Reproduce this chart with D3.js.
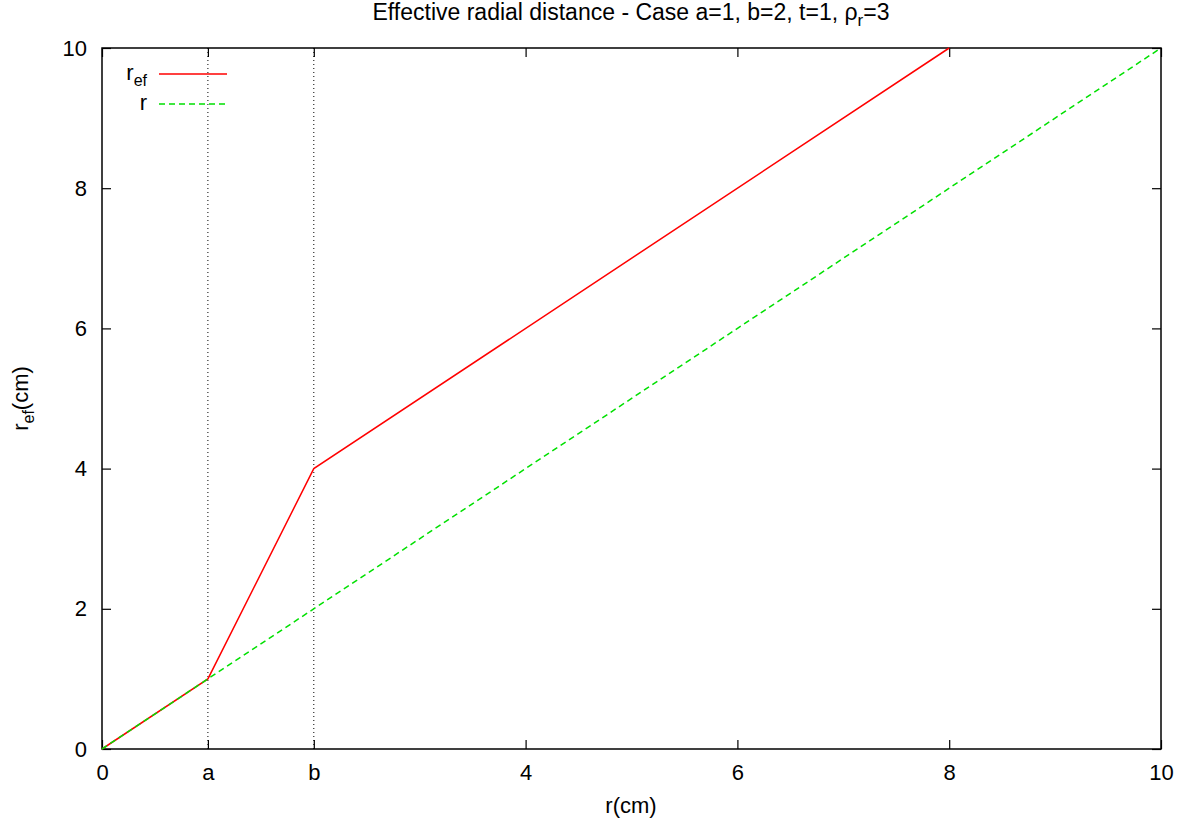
<!DOCTYPE html>
<html>
<head>
<meta charset="utf-8">
<script src="https://cdn.jsdelivr.net/npm/d3@7"></script>
<style>
  html, body { margin: 0; padding: 0; background: #fff; }
  svg text { font-family: "Liberation Sans", Arial, sans-serif; fill: #000; }
</style>
</head>
<body>
<svg id="chart" width="1193" height="829"></svg>
<script>
// Effective radial distance r_ef versus r
const rValues   = [0, 1, 2, 8];
const refValues = [0, 1, 4, 10];
const identR    = [0, 10];
const identVal  = [0, 10];
const boundaryX = [1, 2];            // a and b
const xTickValues = [0, 1, 2, 4, 6, 8, 10];
const xTickLabels = ["0", "a", "b", "4", "6", "8", "10"];
const yTickValues = [0, 2, 4, 6, 8, 10];

const W = 1193, H = 829;
const m = { left: 102, right: 32, top: 48, bottom: 80 };
const svg = d3.select("#chart");

const x = d3.scaleLinear().domain([0, 10]).range([m.left, W - m.right]);
const y = d3.scaleLinear().domain([0, 10]).range([H - m.bottom, m.top]);
const FS = 22;
const SUB = 16;
const tickLen = 9;

// boundary lines at a and b
svg.append("g").selectAll("line").data(boundaryX).join("line")
  .attr("x1", d => x(d)).attr("x2", d => x(d))
  .attr("y1", y(0)).attr("y2", y(10))
  .attr("stroke", "#000").attr("stroke-width", 1)
  .attr("stroke-dasharray", "1,3");

// bottom axis with labels
const xAxis = d3.axisBottom(x).tickValues(xTickValues)
  .tickFormat((d, i) => xTickLabels[i]).tickSize(-tickLen).tickPadding(15);
svg.append("g").attr("transform", `translate(0,${y(0)})`).call(xAxis)
  .call(g => g.select(".domain").remove())
  .call(g => g.selectAll("line").attr("stroke-width", 1.2))
  .call(g => g.selectAll("text").attr("font-size", FS));
// top mirrored ticks
svg.append("g").attr("transform", `translate(0,${y(10)})`)
  .call(d3.axisTop(x).tickValues(xTickValues).tickFormat("").tickSize(-tickLen))
  .call(g => g.select(".domain").remove())
  .call(g => g.selectAll("line").attr("stroke-width", 1.2));

// left axis
svg.append("g").attr("transform", `translate(${x(0)},0)`)
  .call(d3.axisLeft(y).tickValues(yTickValues).tickFormat(d3.format("d")).tickSize(-tickLen).tickPadding(15))
  .call(g => g.select(".domain").remove())
  .call(g => g.selectAll("line").attr("stroke-width", 1.2))
  .call(g => g.selectAll("text").attr("font-size", FS));
// right mirrored ticks
svg.append("g").attr("transform", `translate(${x(10)},0)`)
  .call(d3.axisRight(y).tickValues(yTickValues).tickFormat("").tickSize(-tickLen))
  .call(g => g.select(".domain").remove())
  .call(g => g.selectAll("line").attr("stroke-width", 1.2));

// frame
svg.append("rect")
  .attr("x", x(0)).attr("y", y(10))
  .attr("width", x(10) - x(0)).attr("height", y(0) - y(10))
  .attr("fill", "none").attr("stroke", "#000").attr("stroke-width", 1.5);

const line = d3.line().x(d => x(d[0])).y(d => y(d[1]));

// r_ef (red)
svg.append("path")
  .datum(d3.zip(rValues, refValues))
  .attr("d", line).attr("fill", "none")
  .attr("stroke", "#ff0000").attr("stroke-width", 1.5);

// r reference line (green dashed), drawn on top
svg.append("path")
  .datum(d3.zip(identR, identVal))
  .attr("d", line).attr("fill", "none")
  .attr("stroke", "#00e000").attr("stroke-width", 1.5)
  .attr("stroke-dasharray", "6,4");

// legend
const lg = svg.append("g");
const legendItems = [
  { name: "r", sub: "ef", color: "#ff0000", dash: null, ty: 74 },
  { name: "r", sub: null, color: "#00e000", dash: "6,4", ty: 104 }
];
legendItems.forEach(it => {
  const t = lg.append("text").attr("x", 147).attr("y", it.ty + 6)
    .attr("text-anchor", "end").attr("font-size", FS);
  t.append("tspan").text(it.name);
  if (it.sub) t.append("tspan").attr("font-size", SUB).attr("dy", 6).text(it.sub);
  lg.append("line").attr("x1", 159).attr("x2", 227).attr("y1", it.ty).attr("y2", it.ty)
    .attr("stroke", it.color).attr("stroke-width", 1.5)
    .attr("stroke-dasharray", it.dash);
});

// title
const title = svg.append("text").attr("x", 631).attr("y", 20)
  .attr("text-anchor", "middle").attr("font-size", 23);
title.append("tspan").text("Effective radial distance - Case a=1, b=2, t=1, ρ");
title.append("tspan").attr("font-size", 17).attr("dy", 6).text("r");
title.append("tspan").attr("dy", -6).text("=3");

// axis labels
svg.append("text").attr("x", 631).attr("y", 813)
  .attr("text-anchor", "middle").attr("font-size", FS).text("r(cm)");
const yl = svg.append("text").attr("transform", `translate(28,${y(5)}) rotate(-90)`)
  .attr("text-anchor", "middle").attr("font-size", FS);
yl.append("tspan").text("r");
yl.append("tspan").attr("font-size", SUB).attr("dy", 6).text("ef");
yl.append("tspan").attr("dy", -6).text("(cm)");
</script>
</body>
</html>
